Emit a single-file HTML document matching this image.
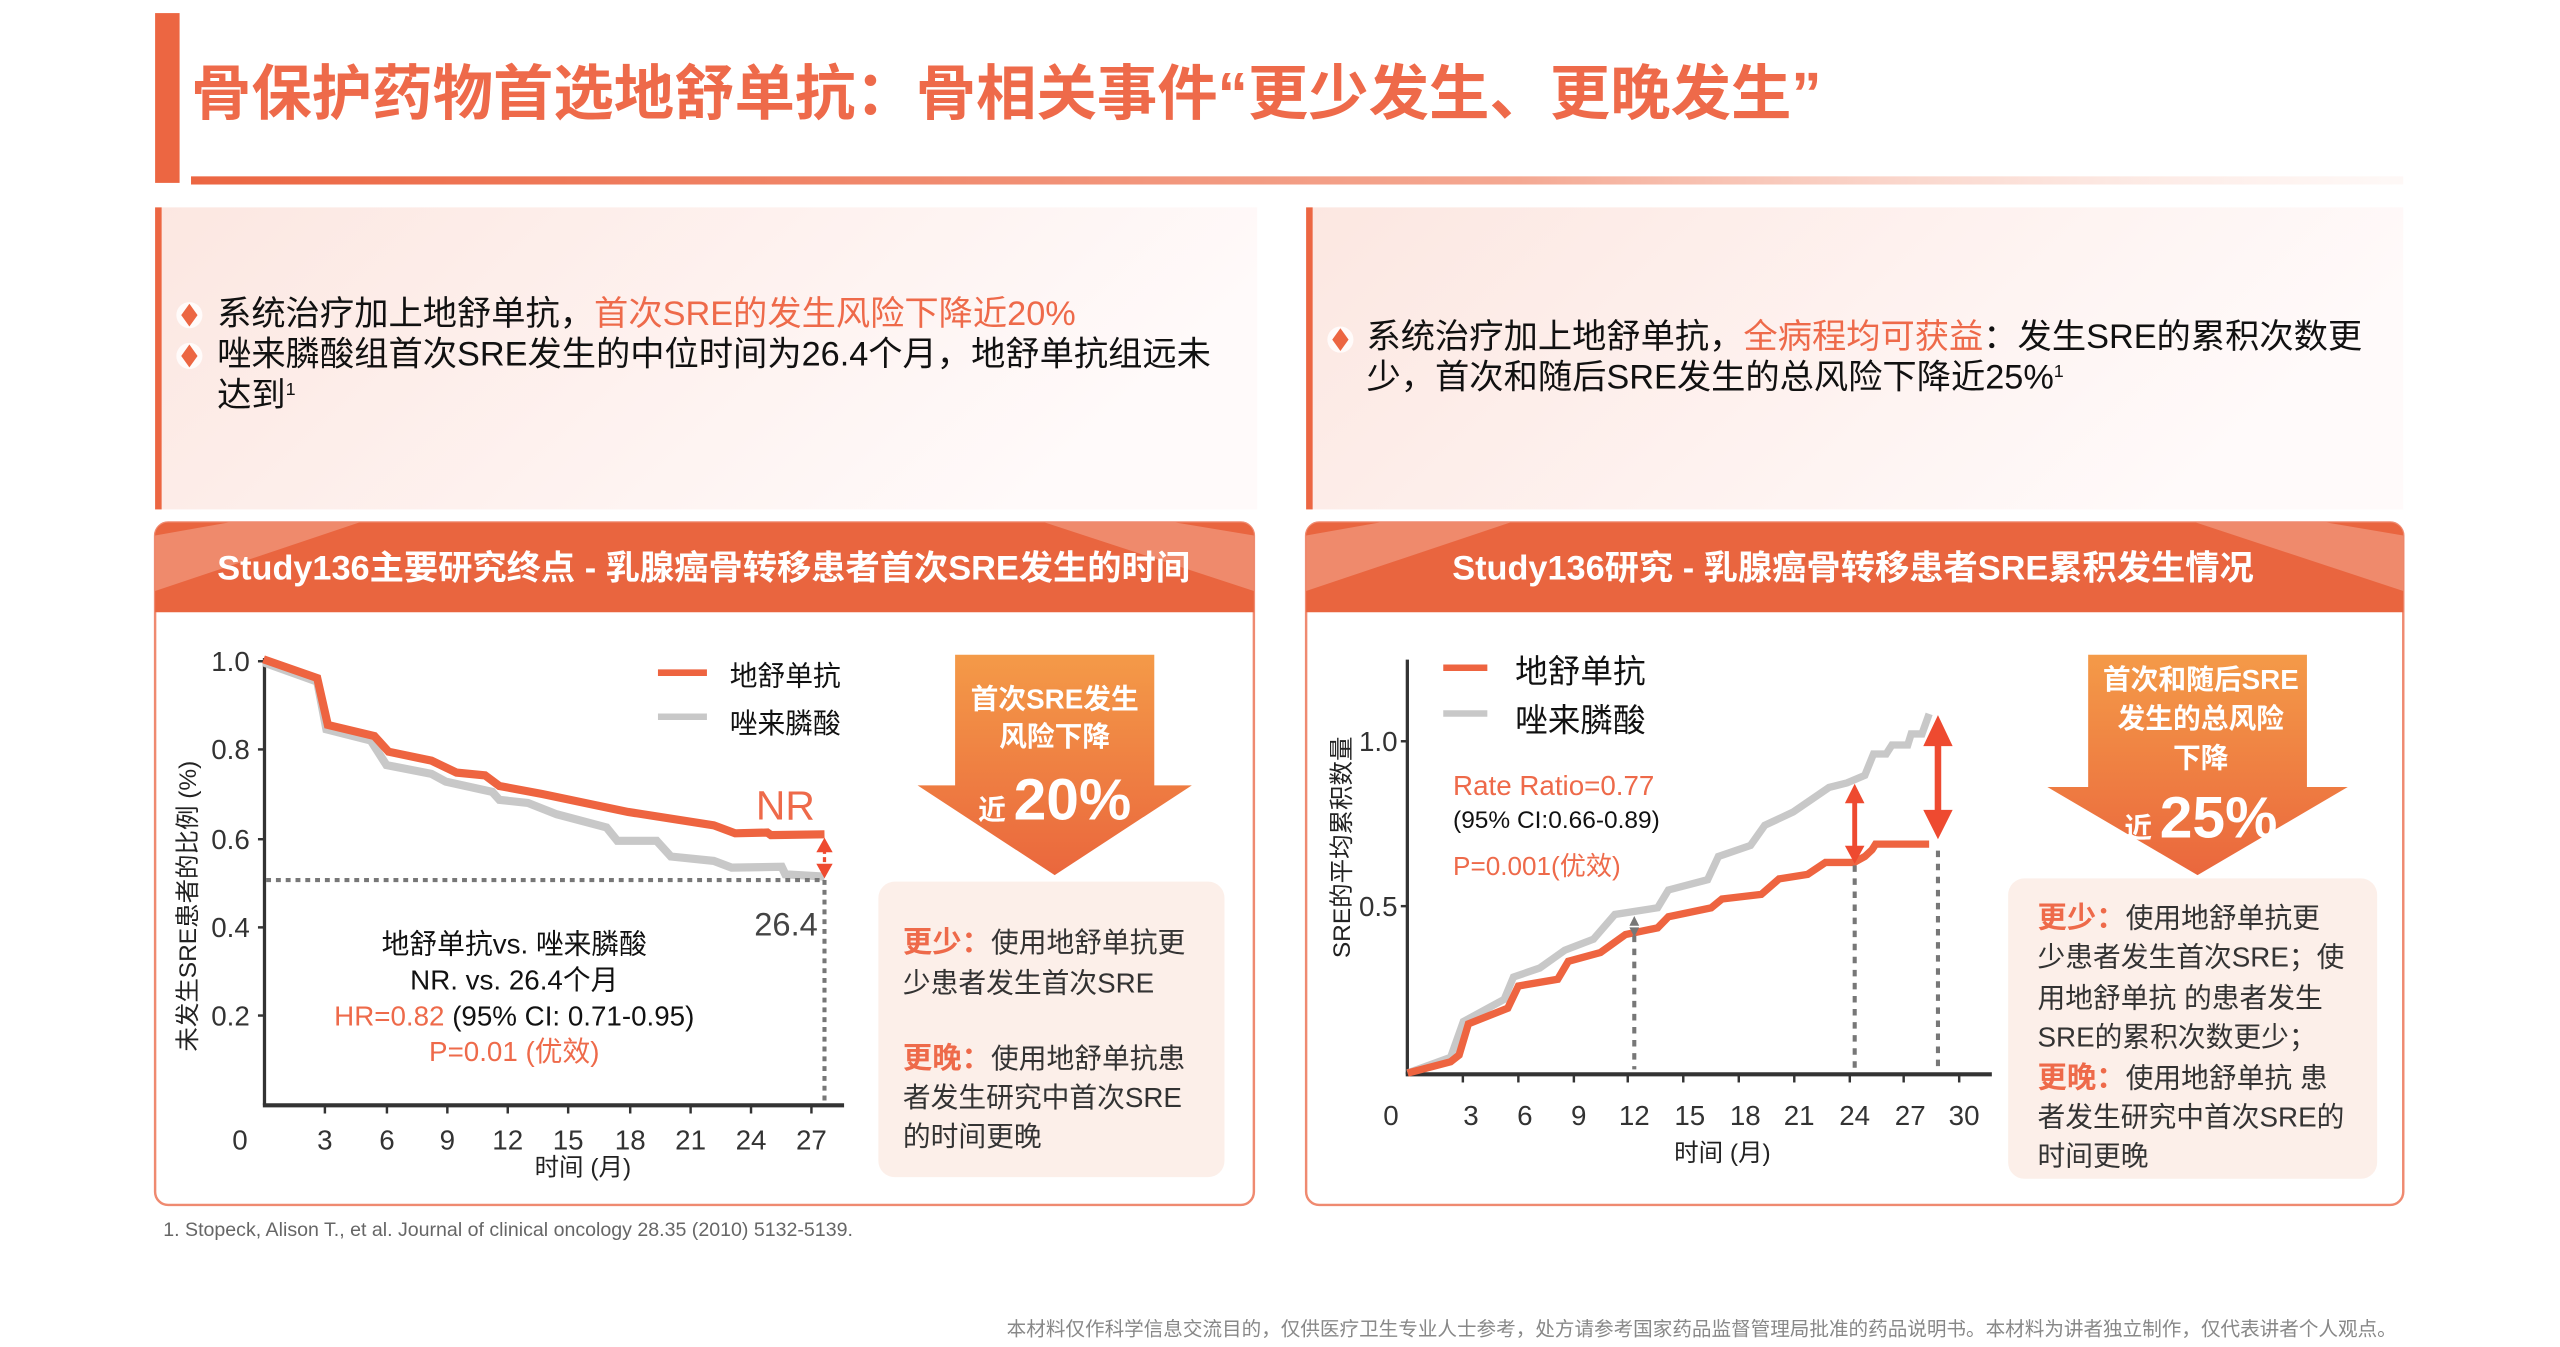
<!DOCTYPE html>
<html><head><meta charset="utf-8"><style>
html,body{margin:0;padding:0;background:#fff;}
svg{display:block;}
text{font-family:"Liberation Sans","Noto Sans CJK SC",sans-serif;}
</style></head><body>
<svg width="2560" height="1347" viewBox="0 0 1568 825" xmlns="http://www.w3.org/2000/svg">
<defs>
<linearGradient id="hl" x1="0" x2="1"><stop offset="0" stop-color="#ec6642"/><stop offset="0.6" stop-color="#f4a892"/><stop offset="1" stop-color="#fde9e3" stop-opacity="0.3"/></linearGradient>
<linearGradient id="tb" x1="0" x2="1" y1="0" y2="0.3"><stop offset="0" stop-color="#fce7e1"/><stop offset="1" stop-color="#fffafa"/></linearGradient>
<linearGradient id="ar" x1="0" x2="0" y1="0" y2="1"><stop offset="0" stop-color="#f49a48"/><stop offset="1" stop-color="#ea673d"/></linearGradient>
</defs>
<rect x="95" y="8" width="15" height="104" fill="#ec6642"/>
<text x="117" y="70" font-size="37" font-weight="bold" fill="#ee6a4a" font-family="Noto Sans CJK SC, sans-serif">骨保护药物首选地舒单抗：骨相关事件“更少发生、更晚发生”</text>
<rect x="117" y="108" width="1355" height="5" fill="url(#hl)"/>
<rect x="95" y="127" width="675" height="185" fill="url(#tb)"/>
<rect x="95" y="127" width="4" height="185" fill="#ec6642"/>
<rect x="800" y="127" width="672" height="185" fill="url(#tb)"/>
<rect x="800" y="127" width="4" height="185" fill="#ec6642"/>
<g font-family="Noto Sans CJK SC, sans-serif" font-size="21" fill="#111">
<circle cx="116" cy="193" r="8" fill="#fff" opacity="0.8"/>
<circle cx="116" cy="218" r="8" fill="#fff" opacity="0.8"/>
<path d="M116 186 l5 7 l-5 7 l-5 -7z" fill="#ec6642"/>
<path d="M116 211 l5 7 l-5 7 l-5 -7z" fill="#ec6642"/>
<text x="133" y="199">系统治疗加上地舒单抗，<tspan fill="#ee6a4a">首次SRE的发生风险下降近20%</tspan></text>
<text x="133" y="224">唑来膦酸组首次SRE发生的中位时间为26.4个月，地舒单抗组远未</text>
<text x="133" y="249">达到<tspan font-size="11" dy="-7">1</tspan></text>
<circle cx="821" cy="208" r="8" fill="#fff" opacity="0.8"/>
<path d="M821 201 l5 7 l-5 7 l-5 -7z" fill="#ec6642"/>
<text x="837" y="213">系统治疗加上地舒单抗，<tspan fill="#ee6a4a">全病程均可获益</tspan>：发生SRE的累积次数更</text>
<text x="837" y="238">少，首次和随后SRE发生的总风险下降近25%<tspan font-size="11" dy="-7">1</tspan></text>
</g>
<g>
<rect x="95" y="320" width="673" height="418" rx="8" fill="#fff" stroke="#ef8a70" stroke-width="1.5"/>
<path d="M103 320 H760 a8 8 0 0 1 8 8 V375 H95 V328 a8 8 0 0 1 8 -8z" fill="#e9653f"/>
<polygon points="95,328 140,320 220,320 95,362" fill="#f19a80" opacity="0.7"/>
<polygon points="768,328 720,320 640,320 768,362" fill="#f19a80" opacity="0.7"/>
<text x="431" y="355" text-anchor="middle" font-size="21" font-weight="bold" fill="#fff">Study136主要研究终点 - 乳腺癌骨转移患者首次SRE发生的时间</text>
<rect x="800" y="320" width="672" height="418" rx="8" fill="#fff" stroke="#ef8a70" stroke-width="1.5"/>
<path d="M808 320 H1464 a8 8 0 0 1 8 8 V375 H800 V328 a8 8 0 0 1 8 -8z" fill="#e9653f"/>
<polygon points="800,328 845,320 925,320 800,362" fill="#f19a80" opacity="0.7"/>
<polygon points="1472,328 1425,320 1345,320 1472,362" fill="#f19a80" opacity="0.7"/>
<text x="1135" y="355" text-anchor="middle" font-size="21" font-weight="bold" fill="#fff">Study136研究 - 乳腺癌骨转移患者SRE累积发生情况</text>
</g>
<g font-size="17" fill="#333">
<line x1="162" y1="403" x2="162" y2="677" stroke="#333" stroke-width="2"/>
<line x1="161" y1="677" x2="517" y2="677" stroke="#333" stroke-width="2.5"/>
<g stroke="#333" stroke-width="1.5">
<line x1="158" y1="405" x2="162" y2="405"/><line x1="158" y1="459" x2="162" y2="459"/><line x1="158" y1="514" x2="162" y2="514"/><line x1="158" y1="568" x2="162" y2="568"/><line x1="158" y1="622" x2="162" y2="622"/>
<line x1="199" y1="677" x2="199" y2="682"/><line x1="237" y1="677" x2="237" y2="682"/><line x1="274" y1="677" x2="274" y2="682"/><line x1="311" y1="677" x2="311" y2="682"/><line x1="348" y1="677" x2="348" y2="682"/><line x1="386" y1="677" x2="386" y2="682"/><line x1="423" y1="677" x2="423" y2="682"/><line x1="460" y1="677" x2="460" y2="682"/><line x1="497" y1="677" x2="497" y2="682"/>
</g>
<g text-anchor="end"><text x="153" y="411">1.0</text><text x="153" y="465">0.8</text><text x="153" y="520">0.6</text><text x="153" y="574">0.4</text><text x="153" y="628">0.2</text></g>
<g text-anchor="middle"><text x="147" y="704">0</text><text x="199" y="704">3</text><text x="237" y="704">6</text><text x="274" y="704">9</text><text x="311" y="704">12</text><text x="348" y="704">15</text><text x="386" y="704">18</text><text x="423" y="704">21</text><text x="460" y="704">24</text><text x="497" y="704">27</text></g>
<text x="357" y="720" text-anchor="middle" font-size="15" fill="#222">时间 (月)</text>
<text transform="translate(120,555) rotate(-90)" text-anchor="middle" font-size="15" fill="#222">未发生SRE患者的比例 (%)</text>
</g>
<polyline fill="none" stroke="#c8c8c8" stroke-width="5" points="161.4,405.7 194.3,417.5 199.9,446.7 227.1,453.6 236.7,468.6 264.3,474 273,478.7 301.5,485 305.9,489.9 323.4,491.8 340.9,498.7 371.5,506.8 378.1,515 402.2,515 410.9,524.6 437.2,527.3 448.1,531.4 478.8,530.9 481,535.5 505,536.9"/>
<polyline fill="none" stroke="#ee6440" stroke-width="5" points="161.4,403.8 194.3,415.3 200.8,444 229.3,450.8 238,460.4 264.3,465.9 279.6,473.2 297.1,474.9 305.9,481.4 332.1,486.3 384.7,497.3 437.2,505.5 450.3,510.4 470,509.9 472.2,511.5 505,511"/>
<line x1="163" y1="539" x2="505" y2="539" stroke="#777" stroke-width="2.5" stroke-dasharray="3,3"/>
<line x1="505" y1="539" x2="505" y2="677" stroke="#777" stroke-width="2.5" stroke-dasharray="3,3"/>
<line x1="505" y1="520" x2="505" y2="531" stroke="#ee4a30" stroke-width="2" stroke-dasharray="3,2"/>
<path d="M500 522 l5 -9 l5 9z M500 529 l5 9 l5 -9z" fill="#ee4a30"/>
<text x="463" y="502" font-size="25" fill="#ee6a4a">NR</text>
<text x="462" y="573" font-size="20" fill="#444">26.4</text>
<line x1="403" y1="412" x2="433" y2="412" stroke="#ee6440" stroke-width="4"/>
<line x1="403" y1="439" x2="433" y2="439" stroke="#c8c8c8" stroke-width="4"/>
<text x="447" y="420" font-size="17" fill="#111">地舒单抗</text>
<text x="447" y="449" font-size="17" fill="#111">唑来膦酸</text>
<g text-anchor="middle" font-size="17">
<text x="315" y="584" fill="#111">地舒单抗vs. 唑来膦酸</text>
<text x="315" y="606" fill="#111">NR. vs. 26.4个月</text>
<text x="315" y="628" fill="#111"><tspan fill="#ee6a4a">HR=0.82</tspan> (95% CI: 0.71-0.95)</text>
<text x="315" y="650" fill="#ee6a4a">P=0.01 (优效)</text>
</g>
<polygon points="585,401 707,401 707,481 730,481 646,536 562,481 585,481" fill="url(#ar)"/>
<g fill="#fff" text-anchor="middle" font-weight="bold">
<text x="646" y="434" font-size="17">首次SRE发生</text>
<text x="646" y="457" font-size="17">风险下降</text>
<text x="646" y="502" font-size="36"><tspan font-size="17">近 </tspan>20%</text>
</g>
<rect x="538" y="540" width="212" height="181" rx="10" fill="#fcefe9"/>
<g font-size="17" fill="#333">
<text x="553" y="583"><tspan fill="#ee6a4a" font-weight="bold" font-size="18">更少：</tspan>使用地舒单抗更</text>
<text x="553" y="608">少患者发生首次SRE</text>
<text x="553" y="654"><tspan fill="#ee6a4a" font-weight="bold" font-size="18">更晚：</tspan>使用地舒单抗患</text>
<text x="553" y="678">者发生研究中首次SRE</text>
<text x="553" y="702">的时间更晚</text>
</g>
<g font-size="17" fill="#333">
<line x1="862" y1="404" x2="862" y2="658" stroke="#333" stroke-width="2"/>
<line x1="861" y1="658" x2="1220" y2="658" stroke="#333" stroke-width="2.5"/>
<g stroke="#333" stroke-width="1.5">
<line x1="858" y1="454" x2="862" y2="454"/><line x1="858" y1="555" x2="862" y2="555"/>
<line x1="896" y1="658" x2="896" y2="663"/><line x1="930" y1="658" x2="930" y2="663"/><line x1="964" y1="658" x2="964" y2="663"/><line x1="997" y1="658" x2="997" y2="663"/><line x1="1031" y1="658" x2="1031" y2="663"/><line x1="1065" y1="658" x2="1065" y2="663"/><line x1="1099" y1="658" x2="1099" y2="663"/><line x1="1133" y1="658" x2="1133" y2="663"/><line x1="1166" y1="658" x2="1166" y2="663"/><line x1="1200" y1="658" x2="1200" y2="663"/>
</g>
<g text-anchor="end"><text x="856" y="460">1.0</text><text x="856" y="561">0.5</text></g>
<g text-anchor="middle"><text x="852" y="689">0</text><text x="901" y="689">3</text><text x="934" y="689">6</text><text x="967" y="689">9</text><text x="1001" y="689">12</text><text x="1035" y="689">15</text><text x="1069" y="689">18</text><text x="1102" y="689">21</text><text x="1136" y="689">24</text><text x="1170" y="689">27</text><text x="1203" y="689">30</text></g>
<text x="1055" y="711" text-anchor="middle" font-size="15" fill="#222">时间 (月)</text>
<text transform="translate(827,519) rotate(-90)" text-anchor="middle" font-size="15" fill="#222">SRE的平均累积数量</text>
</g>
<polyline fill="none" stroke="#c8c8c8" stroke-width="4.5" points="862.2,657.2 888.5,647.6 896.3,625.7 921.3,612.1 927,598.4 943.1,592.9 958.4,582 976,575.2 989.1,560.1 1015.3,556 1021.9,545.1 1045.9,538.8 1052.5,524.6 1072.2,517.8 1080.9,505.5 1098.4,497.3 1120.3,482.3 1131.3,479.5 1142.2,474.9 1147.5,461.8 1155.3,461.8 1158.8,456.3 1168.5,456.3 1170.6,449.5 1177.2,449.5 1181.6,437.2"/>
<polyline fill="none" stroke="#ee6440" stroke-width="4.5" points="862.2,657.2 888.5,650.3 893.7,646.2 899.4,627.1 923.5,617.5 930,603.9 954.1,599.8 960.6,588.8 980.3,583.4 995.6,572.4 1015.3,568.3 1021.9,561.5 1048.1,556 1054.7,550.6 1078.8,547.8 1089.7,538.3 1107.2,535.5 1118.1,528.2 1135.6,528.2 1142.2,524.6 1146.6,520.5 1148.8,517 1181.6,517"/>
<g stroke="#777" stroke-width="2.5" stroke-dasharray="4,4">
<line x1="1001" y1="573" x2="1001" y2="655"/><line x1="1136" y1="530" x2="1136" y2="655"/><line x1="1187" y1="521" x2="1187" y2="655"/>
</g>
<path d="M998 567 l3 -6 l3 6z M998 568 l3 6 l3 -6z" fill="#777"/>
<line x1="1136" y1="488" x2="1136" y2="522" stroke="#ee4a30" stroke-width="3"/>
<path d="M1130 492 l6 -12 l6 12z M1130 518 l6 11 l6 -11z" fill="#ee4a30"/>
<line x1="1187" y1="448" x2="1187" y2="505" stroke="#ee4a30" stroke-width="4"/>
<path d="M1178 457 l9 -19 l9 19z M1178 496 l9 18 l9 -18z" fill="#ee4a30"/>
<line x1="884" y1="409" x2="911" y2="409" stroke="#ee6440" stroke-width="4"/>
<line x1="884" y1="437" x2="911" y2="437" stroke="#c8c8c8" stroke-width="4"/>
<text x="928" y="418" font-size="20" fill="#111">地舒单抗</text>
<text x="928" y="448" font-size="20" fill="#111">唑来膦酸</text>
<text x="890" y="487" font-size="17" fill="#ee6a4a">Rate Ratio=0.77</text>
<text x="890" y="507" font-size="15" fill="#111">(95% CI:0.66-0.89)</text>
<text x="890" y="536" font-size="16" fill="#ee6a4a">P=0.001(优效)</text>
<polygon points="1279,401 1413,401 1413,482 1438,482 1346,536 1254,482 1279,482" fill="url(#ar)"/>
<g fill="#fff" text-anchor="middle" font-weight="bold">
<text x="1348" y="422" font-size="17">首次和随后SRE</text>
<text x="1348" y="446" font-size="17">发生的总风险</text>
<text x="1348" y="470" font-size="17">下降</text>
<text x="1348" y="513" font-size="36"><tspan font-size="17">近 </tspan>25%</text>
</g>
<rect x="1230" y="538" width="226" height="184" rx="10" fill="#fcefe9"/>
<g font-size="17" fill="#333">
<text x="1248" y="568"><tspan fill="#ee6a4a" font-weight="bold" font-size="18">更少：</tspan>使用地舒单抗更</text>
<text x="1248" y="592">少患者发生首次SRE；使</text>
<text x="1248" y="617">用地舒单抗 的患者发生</text>
<text x="1248" y="641">SRE的累积次数更少；</text>
<text x="1248" y="666"><tspan fill="#ee6a4a" font-weight="bold" font-size="18">更晚：</tspan>使用地舒单抗 患</text>
<text x="1248" y="690">者发生研究中首次SRE的</text>
<text x="1248" y="714">时间更晚</text>
</g>
<text x="100" y="757" font-size="12" fill="#666">1. Stopeck, Alison T., et al. Journal of clinical oncology 28.35 (2010) 5132-5139.</text>
<text x="1468" y="818" text-anchor="end" font-size="12" fill="#888">本材料仅作科学信息交流目的，仅供医疗卫生专业人士参考，处方请参考国家药品监督管理局批准的药品说明书。本材料为讲者独立制作，仅代表讲者个人观点。</text>
</svg>
</body></html>
